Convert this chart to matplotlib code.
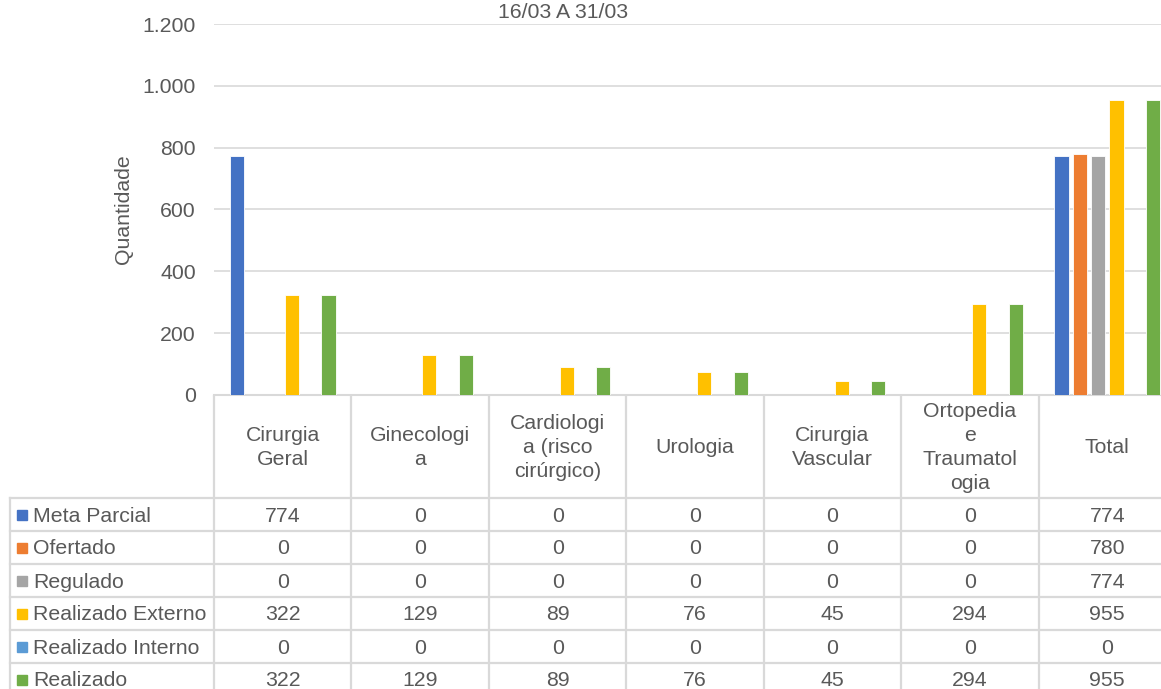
import matplotlib
matplotlib.use("Agg")
import matplotlib.pyplot as plt
from matplotlib.patches import Rectangle
import numpy as np

plt.rcParams['font.family'] = ['Liberation Sans', 'DejaVu Sans']

title = "16/03 A 31/03"
ylabel = "Quantidade"
categories = ["Cirurgia\nGeral", "Ginecologi\na", "Cardiologi\na (risco\ncirúrgico)",
              "Urologia", "Cirurgia\nVascular", "Ortopedia\ne\nTraumatol\nogia", "Total"]
series_names = ["Meta Parcial", "Ofertado", "Regulado", "Realizado Externo",
                "Realizado Interno", "Realizado"]
meta_parcial = [774, 0, 0, 0, 0, 0, 774]
ofertado = [0, 0, 0, 0, 0, 0, 780]
regulado = [0, 0, 0, 0, 0, 0, 774]
realizado_externo = [322, 129, 89, 76, 45, 294, 955]
realizado_interno = [0, 0, 0, 0, 0, 0, 0]
realizado = [322, 129, 89, 76, 45, 294, 955]
series_values = [meta_parcial, ofertado, regulado, realizado_externo, realizado_interno, realizado]
colors = ["#4472C4", "#ED7D31", "#A5A5A5", "#FFC000", "#5B9BD5", "#70AD47"]
yticks = [0, 200, 400, 600, 800, 1000, 1200]
ytick_labels = ["0", "200", "400", "600", "800", "1.000", "1.200"]

W, H = 1161, 689
TXT = "#595959"
LINE = "#d9d9d9"
FS = 15.3

fig = plt.figure(figsize=(W / 100, H / 100), dpi=100)

# layout in pixels
x0, x1 = 214, 1176
y_top, y_base = 24, 395
ax = fig.add_axes([x0 / W, (H - y_base) / H, (x1 - x0) / W, (y_base - y_top) / H])
n = len(categories)
ns = len(series_values)
slot = 0.8 / ns
bw = slot * 0.77
xc = np.arange(n) + 0.5
for j, (vals, c) in enumerate(zip(series_values, colors)):
    ax.bar(xc + (j - (ns - 1) / 2) * slot, vals, width=bw, color=c,
           edgecolor="white", linewidth=0.6, zorder=3)
ax.set_xlim(0, n)
ax.set_ylim(0, 1200)
ax.set_yticks(yticks)
ax.set_yticklabels(ytick_labels, fontsize=FS, color=TXT)
ax.set_xticks([])
ax.tick_params(axis='y', length=0, pad=13)
ax.grid(axis='y', color=LINE, linewidth=1.2, zorder=0)
for s in ["top", "right", "left"]:
    ax.spines[s].set_visible(False)
ax.spines["bottom"].set_color(LINE)
ax.spines["bottom"].set_linewidth(1.5)
ax.set_ylabel(ylabel, fontsize=FS, color=TXT, labelpad=7)
fig.text(563 / W, 1 - 12 / H, title, ha="center", va="center", fontsize=FS, color=TXT)

# data table
tab = fig.add_axes([0, 0, 1, 1], zorder=-1)
tab.set_xlim(0, W)
tab.set_ylim(H, 0)
tab.axis("off")
col_w = (x1 - x0) / n
header_bottom = 498
row_h = 33
table_left = 10
row_tops = [header_bottom + i * row_h for i in range(ns + 1)]
bottom = row_tops[-1]
lw = 1.6
# vertical lines
for i in range(n + 1):
    xx = x0 + i * col_w
    tab.plot([xx, xx], [y_base, bottom], color=LINE, lw=lw, solid_capstyle="butt")
tab.plot([table_left, table_left], [header_bottom, bottom], color=LINE, lw=lw)
# horizontal lines
for yy in row_tops:
    tab.plot([table_left, x1], [yy, yy], color=LINE, lw=lw)
# header texts
for i, cat in enumerate(categories):
    tab.text(x0 + (i + 0.5) * col_w, (y_base + header_bottom) / 2 + 1, cat,
             ha="center", va="center", fontsize=FS, color=TXT, linespacing=1.33)
# rows
for r, (name, vals, c) in enumerate(zip(series_names, series_values, colors)):
    yc = row_tops[r] + row_h / 2
    tab.add_patch(Rectangle((17, yc - 5), 10, 10, color=c))
    tab.text(33, yc + 1.5, name, ha="left", va="center", fontsize=FS, color=TXT)
    for i, v in enumerate(vals):
        tab.text(x0 + (i + 0.5) * col_w, yc + 1.5, f"{v}", ha="center", va="center",
                 fontsize=FS, color=TXT)

fig.savefig("out.png", dpi=100)
